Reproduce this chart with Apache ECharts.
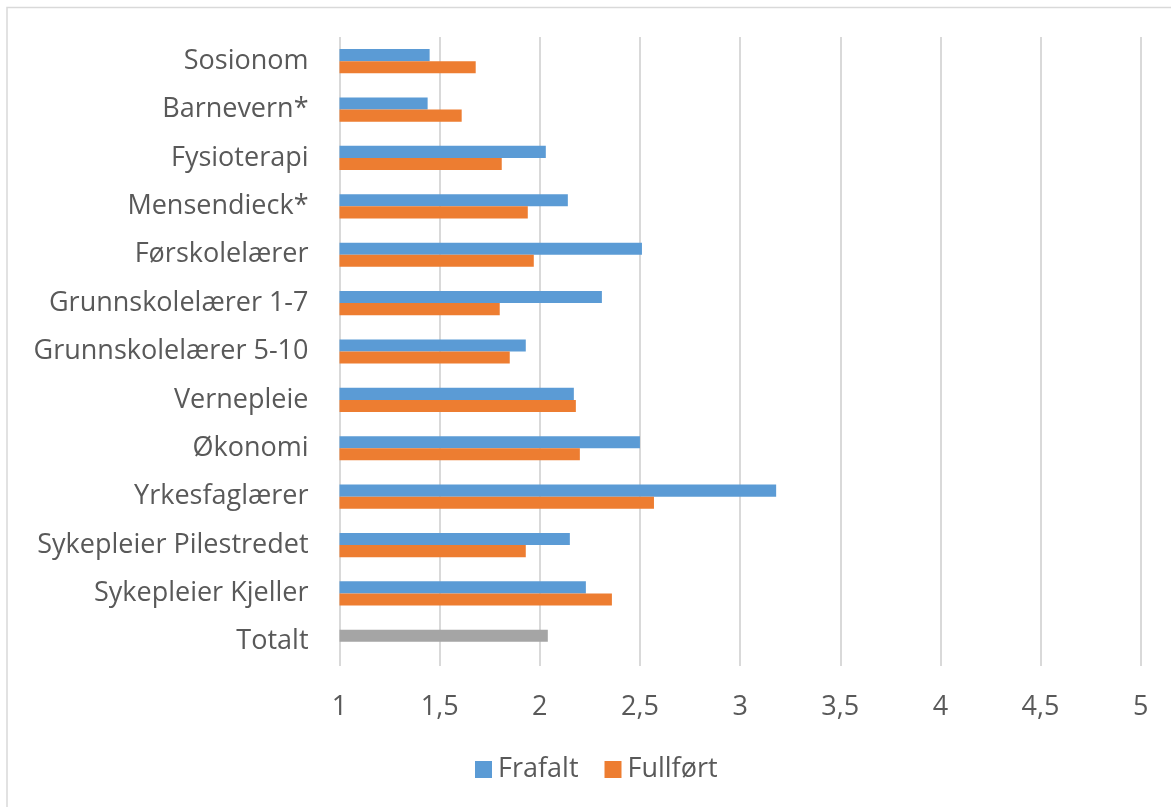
<!DOCTYPE html>
<html>
<head>
<meta charset="utf-8">
<title>Frafalt og fullført</title>
<script src="https://cdn.jsdelivr.net/npm/echarts@6/dist/echarts.min.js"></script>
<style>
  html, body { margin: 0; padding: 0; background: #ffffff; }
  #chart { width: 1171px; height: 807px; }
</style>
</head>
<body>
<div id="chart"></div>
<script>
// Studieprogram, top to bottom
const categories = [
  'Sosionom', 'Barnevern*', 'Fysioterapi', 'Mensendieck*', 'Førskolelærer',
  'Grunnskolelærer 1-7', 'Grunnskolelærer 5-10', 'Vernepleie', 'Økonomi',
  'Yrkesfaglærer', 'Sykepleier Pilestredet', 'Sykepleier Kjeller', 'Totalt'
];
const frafalt  = [1.45, 1.44, 2.03, 2.14, 2.51, 2.31, 1.93, 2.17, 2.50, 3.18, 2.15, 2.23, 2.04];
const fullfort = [1.68, 1.61, 1.81, 1.94, 1.97, 1.80, 1.85, 2.18, 2.20, 2.57, 1.93, 2.36, null];
const xTicks = { min: 1, max: 5, step: 0.5 };

const BLUE = '#5b9bd5', ORANGE = '#ed7d31', GREY = '#a5a5a5';
const TEXT = '#595959', LINE = '#d9d9d9';
const FONT = 'Open Sans';
const FS = 27;

// The overall row is drawn in grey in the first slot
const frafaltData = frafalt.map((v, i) =>
  categories[i] === 'Totalt' ? { value: v, itemStyle: { color: GREY } } : v);
const fullfortData = fullfort.map(v => (v === null ? '-' : v));

const chart = echarts.init(document.getElementById('chart'), null, { renderer: 'canvas' });
chart.setOption({
  backgroundColor: '#ffffff',
  animation: false,
  textStyle: { fontFamily: FONT, color: TEXT },
  graphic: [{
    type: 'rect',
    shape: { x: 7, y: 7.5, width: 1200, height: 900 },
    style: { fill: 'none', stroke: LINE, lineWidth: 1.5 },
    silent: true
  }],
  grid: { left: 339.5, right: 30.3, top: 37, bottom: 141, containLabel: false },
  legend: {
    left: 470, top: 751,
    itemWidth: 17, itemHeight: 17, itemGap: 26,
    icon: 'rect',
    textStyle: { fontFamily: FONT, fontSize: FS, color: TEXT, padding: [0, 0, 0, 1] },
    data: ['Frafalt', 'Fullført']
  },
  xAxis: {
    type: 'value',
    min: xTicks.min, max: xTicks.max, interval: xTicks.step,
    axisLine: { show: false },
    axisTick: { show: false },
    splitLine: { show: true, lineStyle: { color: LINE, width: 2 } },
    axisLabel: {
      fontFamily: FONT, fontSize: FS, color: TEXT, margin: 28,
      formatter: v => String(v).replace('.', ',')
    }
  },
  yAxis: {
    type: 'category',
    data: categories,
    inverse: true,
    axisLine: { show: false },
    axisTick: { show: false },
    axisLabel: { fontFamily: FONT, fontSize: FS, color: TEXT, margin: 31, padding: [3, 0, 0, 0] }
  },
  series: [
    {
      name: 'Frafalt', type: 'bar', data: frafaltData,
      itemStyle: { color: BLUE },
      barGap: '0%', barCategoryGap: '50%'
    },
    {
      name: 'Fullført', type: 'bar', data: fullfortData,
      itemStyle: { color: ORANGE },
      barGap: '0%', barCategoryGap: '50%'
    }
  ]
});
</script>
</body>
</html>
